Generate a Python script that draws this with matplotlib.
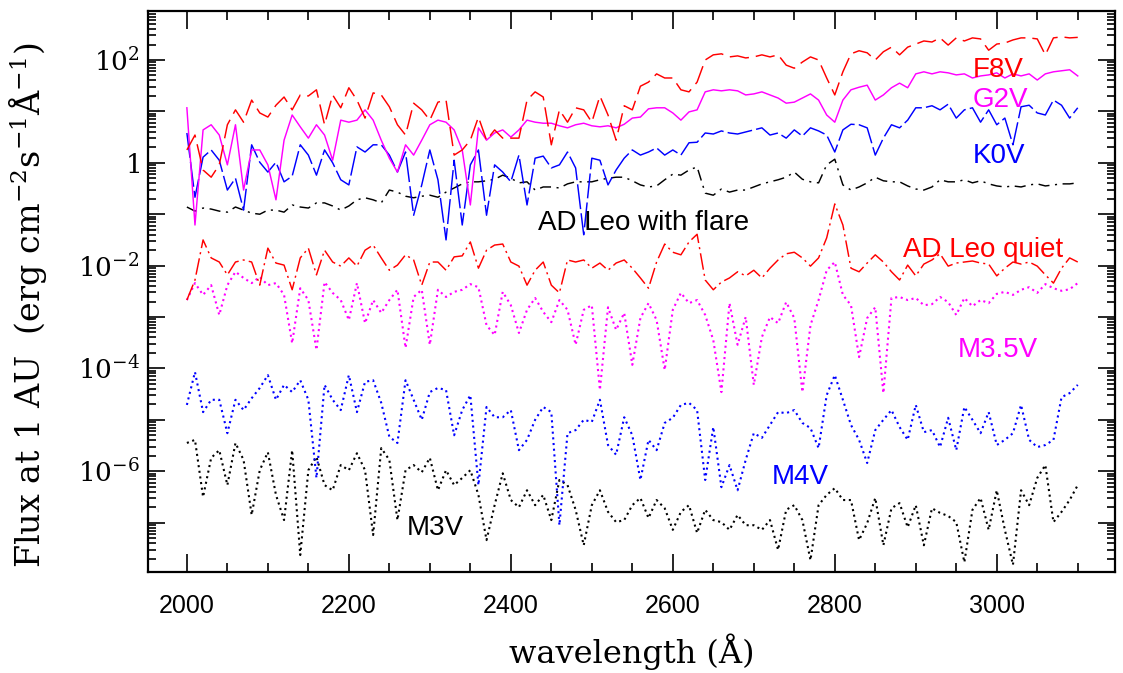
import numpy as np
import matplotlib
matplotlib.use('Agg')
import matplotlib.pyplot as plt
from matplotlib.ticker import LogLocator, FuncFormatter, MultipleLocator, NullFormatter

plt.rcParams['lines.scale_dashes'] = False
plt.rcParams['mathtext.fontset'] = 'dejavuserif'

# ---------------- data (log10 of flux at 1 AU) ----------------
wavelength = list(range(2000, 3101, 10))

f8v_log = [0.25, 0.54, -0.14, -0.28, -0.04, 0.74, 1.03, 0.79, 1.22, 0.97,
           0.89, 1.12, 1.28, 1.03, 1.32, 1.30, 1.42, 0.74, 1.32, 1.07,
           1.46, 1.22, 0.87, 1.36, 1.32, 1.09, 0.74, 0.54, 1.16, 1.03,
           0.83, 1.18, 1.22, 0.15, 0.25, 0.44, 0.89, 0.44, 0.64, 0.48,
           0.48, 0.48, 1.22, 1.38, 1.28, 0.35, 1.03, 0.79, 1.07, 1.03,
           0.79, 1.30, 0.93, 0.44, 1.11, 1.03, 1.49, 1.57, 1.73, 1.65,
           1.65, 1.42, 1.38, 1.57, 2.00, 2.10, 2.12, 2.06, 2.08, 2.04,
           2.06, 2.10, 2.06, 2.10, 1.90, 1.84, 1.96, 2.06, 2.00, 1.65,
           1.32, 1.77, 2.12, 2.18, 2.14, 2.00, 2.16, 2.25, 2.10, 2.25,
           2.31, 2.37, 2.35, 2.43, 2.29, 2.43, 2.37, 2.43, 2.41, 2.19,
           2.31, 2.33, 2.39, 2.43, 2.43, 2.41, 2.10, 2.43, 2.45, 2.43, 2.44]

g2v_log = [1.07, -1.21, 0.64, 0.74, 0.54, -0.04, 0.74, -0.53, 0.25, 0.25,
           -0.04, -0.72, 0.44, 0.93, 0.70, 0.48, 0.74, 0.54, 0.05, 0.83,
           0.79, 0.83, 1.03, 0.83, 0.44, 0.09, -0.18, 0.35, 0.15, 0.44,
           0.74, 0.83, 0.79, 0.64, 0.25, -0.82, 0.68, 0.44, 0.58, 0.64,
           0.50, 0.64, 0.83, 0.79, 0.77, 0.77, 0.72, 0.68, 0.74, 0.77,
           0.72, 0.70, 0.72, 0.68, 0.75, 0.87, 0.89, 1.05, 1.07, 1.07,
           0.97, 0.83, 0.99, 1.03, 1.38, 1.42, 1.40, 1.42, 1.40, 1.32,
           1.34, 1.38, 1.32, 1.26, 1.16, 1.18, 1.26, 1.34, 1.22, 0.93,
           0.79, 1.22, 1.42, 1.47, 1.51, 1.22, 1.32, 1.46, 1.55, 1.46,
           1.73, 1.77, 1.73, 1.77, 1.75, 1.71, 1.73, 1.65, 1.69, 1.71,
           1.75, 1.65, 1.73, 1.69, 1.73, 1.61, 1.73, 1.77, 1.79, 1.81, 1.69]

k0v_log = [0.58, -0.67, 0.11, 0.25, 0.05, -0.53, -0.30, -0.92, 0.35, 0.01,
           -0.18, 0.01, -0.37, -0.26, 0.35, 0.15, -0.24, 0.25, 0.00, -0.33,
           -0.43, 0.31, 0.21, 0.35, 0.35, 0.15, -0.18, 0.21, -1.02, -0.43,
           0.25, -0.33, -1.50, 0.05, -1.21, -0.04, 0.25, -1.02, -0.04, -0.18,
           -0.37, 0.15, -0.82, 0.09, 0.13, -0.10, -0.04, 0.21, -0.10, -1.40,
           0.09, 0.05, -0.43, -0.14, 0.09, 0.25, 0.15, 0.21, 0.29, 0.15,
           0.25, 0.15, 0.39, 0.40, 0.58, 0.56, 0.62, 0.58, 0.56, 0.60,
           0.64, 0.68, 0.54, 0.58, 0.48, 0.64, 0.52, 0.68, 0.62, 0.54,
           0.21, 0.64, 0.75, 0.74, 0.68, 0.15, 0.48, 0.74, 0.68, 0.83,
           1.07, 1.07, 1.11, 1.03, 1.14, 0.87, 1.03, 1.07, 0.79, 1.03,
           0.74, 0.87, 0.35, 1.09, 1.12, 0.97, 0.93, 1.22, 1.12, 0.87, 1.07]

flare_log = [-0.86, -0.94, -0.88, -0.90, -0.94, -0.96, -0.86, -0.92, -0.98, -1.00,
             -0.92, -0.92, -0.96, -0.82, -0.86, -0.88, -0.78, -0.78, -0.84, -0.92,
             -0.84, -0.72, -0.68, -0.72, -0.78, -0.53, -0.57, -0.65, -0.68, -0.65,
             -0.63, -0.67, -0.57, -0.49, -0.41, -0.37, -0.37, -0.35, -0.32, -0.24,
             -0.30, -0.39, -0.37, -0.53, -0.47, -0.47, -0.49, -0.41, -0.37, -0.37,
             -0.37, -0.33, -0.30, -0.28, -0.28, -0.35, -0.43, -0.47, -0.45, -0.33,
             -0.22, -0.24, -0.14, -0.08, -0.59, -0.63, -0.51, -0.57, -0.53, -0.53,
             -0.47, -0.41, -0.37, -0.33, -0.28, -0.18, -0.32, -0.37, -0.39, -0.04,
             0.07, -0.43, -0.53, -0.47, -0.39, -0.28, -0.35, -0.37, -0.37, -0.45,
             -0.51, -0.53, -0.47, -0.33, -0.37, -0.37, -0.33, -0.39, -0.35, -0.41,
             -0.45, -0.47, -0.45, -0.47, -0.43, -0.41, -0.45, -0.43, -0.41, -0.41, -0.39]

quiet_log = [-2.67, -2.28, -1.50, -1.85, -1.93, -2.18, -1.93, -1.89, -1.93, -2.38,
             -1.66, -1.95, -1.99, -2.47, -1.85, -1.66, -2.18, -1.70, -1.93, -2.01,
             -1.85, -2.01, -1.70, -1.60, -1.85, -2.09, -1.99, -1.79, -1.89, -2.38,
             -1.93, -1.93, -2.09, -1.83, -1.81, -1.54, -2.05, -1.70, -1.60, -1.58,
             -1.93, -2.01, -2.38, -2.09, -1.93, -2.38, -2.53, -1.89, -1.93, -1.89,
             -2.05, -1.95, -2.09, -1.95, -1.89, -2.05, -2.24, -2.44, -1.93, -1.58,
             -1.74, -1.79, -1.54, -1.39, -2.28, -2.47, -2.32, -2.24, -2.12, -2.20,
             -2.09, -2.24, -2.05, -1.89, -1.77, -1.74, -1.85, -2.01, -1.85, -1.46,
             -0.80, -1.21, -2.05, -2.12, -1.95, -1.79, -1.93, -2.12, -2.28, -1.99,
             -2.20, -1.97, -1.89, -1.77, -2.01, -1.95, -1.93, -1.91, -1.95, -1.97,
             -2.20, -2.05, -1.93, -1.97, -1.93, -2.01, -2.18, -2.34, -2.05, -1.85, -1.93]

m35v_log = [-2.67, -2.34, -2.57, -2.38, -2.96, -2.38, -2.12, -2.24, -2.34, -2.22,
            -2.38, -2.34, -2.57, -3.51, -2.44, -2.67, -3.64, -2.32, -2.53, -2.67,
            -3.06, -2.34, -3.12, -2.67, -2.92, -2.67, -2.47, -3.60, -2.61, -2.47,
            -3.54, -2.47, -2.61, -2.51, -2.47, -2.36, -2.42, -3.16, -3.35, -2.51,
            -2.77, -3.31, -2.86, -2.63, -2.90, -3.10, -2.67, -2.86, -3.54, -2.86,
            -2.77, -4.42, -2.81, -3.25, -2.92, -3.93, -3.02, -2.73, -3.06, -4.03,
            -2.86, -2.53, -2.73, -2.67, -2.96, -3.45, -4.46, -2.73, -3.54, -3.00,
            -4.32, -3.39, -3.00, -3.12, -2.71, -3.02, -4.46, -3.16, -2.67, -2.09,
            -1.93, -2.57, -2.77, -3.78, -3.02, -2.81, -4.48, -2.63, -2.61, -2.67,
            -2.63, -2.77, -2.75, -2.61, -2.71, -2.96, -2.63, -2.79, -2.67, -2.73,
            -2.55, -2.51, -2.57, -2.47, -2.42, -2.53, -2.36, -2.44, -2.49, -2.46, -2.34]

m4v_log = [-4.71, -4.07, -4.85, -4.61, -4.61, -5.26, -4.61, -4.81, -4.58, -4.38,
           -4.13, -4.61, -4.32, -4.46, -4.23, -4.61, -6.13, -4.32, -4.61, -4.81,
           -4.13, -4.85, -4.26, -4.23, -4.67, -5.33, -5.45, -4.23, -4.61, -5.00,
           -4.46, -4.38, -4.42, -5.30, -4.81, -4.52, -6.27, -4.75, -4.95, -4.95,
           -4.81, -5.59, -5.39, -5.00, -4.75, -4.85, -7.05, -5.26, -5.20, -5.00,
           -5.04, -4.61, -5.49, -5.68, -4.95, -5.30, -6.17, -5.39, -5.59, -5.06,
           -4.96, -4.71, -4.67, -4.81, -6.17, -5.14, -6.31, -5.88, -6.37, -5.78,
           -5.26, -5.35, -5.10, -4.85, -4.87, -4.81, -5.06, -5.16, -5.55, -4.52,
           -4.13, -4.61, -5.10, -5.39, -5.84, -5.20, -5.00, -4.81, -5.14, -5.39,
           -4.71, -5.24, -5.20, -5.53, -4.96, -5.59, -4.75, -5.00, -5.26, -4.85,
           -5.49, -5.39, -5.26, -4.71, -5.39, -5.53, -5.49, -5.39, -4.56, -4.48, -4.32]

m3v_log = [-5.45, -5.39, -6.50, -5.74, -5.59, -6.27, -5.45, -5.78, -6.85, -5.98,
           -5.63, -6.46, -6.95, -5.59, -7.63, -5.98, -5.72, -6.27, -6.37, -5.88,
           -5.98, -5.65, -5.98, -7.24, -5.55, -5.78, -6.95, -5.98, -5.88, -6.02,
           -5.74, -6.37, -5.98, -6.27, -6.13, -5.98, -6.46, -7.34, -6.66, -6.04,
           -6.56, -6.70, -6.37, -6.66, -6.46, -6.95, -6.17, -6.27, -6.75, -7.44,
           -6.66, -6.37, -6.79, -6.99, -6.95, -6.66, -6.52, -6.91, -6.56, -6.72,
           -7.14, -6.79, -6.66, -7.20, -6.75, -6.95, -6.99, -7.14, -6.85, -7.05,
           -7.05, -7.14, -6.95, -7.53, -6.75, -6.66, -6.95, -7.73, -6.66, -6.46,
           -6.33, -6.56, -6.56, -7.34, -7.01, -6.52, -7.44, -6.72, -6.62, -7.09,
           -6.66, -7.44, -6.72, -6.81, -6.87, -6.99, -7.77, -6.75, -6.52, -7.14,
           -6.37, -7.14, -7.82, -6.37, -6.66, -6.13, -5.88, -6.99, -6.79, -6.56, -6.27]

series_names = ['M3V', 'M4V', 'M3.5V', 'AD Leo quiet', 'AD Leo with flare', 'K0V', 'G2V', 'F8V']
series_logs = [m3v_log, m4v_log, m35v_log, quiet_log, flare_log, k0v_log, g2v_log, f8v_log]
series_colors = ['black', 'blue', 'magenta', 'red', 'black', 'blue', 'magenta', 'red']
series_dashes = [(1.5, 2.6), (1.5, 2.6), (1.5, 2.6), (12, 3, 1.5, 3), (8, 4, 1.5, 4),
                 (18, 3), None, (14, 5)]

x_tick_values = [2000, 2200, 2400, 2600, 2800, 3000]
x_tick_labels = ['2000', '2200', '2400', '2600', '2800', '3000']

# label positions: (wavelength, log10 flux) of left/baseline anchor
label_pos = {'F8V': (2970, 1.67), 'G2V': (2970, 1.09), 'K0V': (2970, 0.0),
             'AD Leo with flare': (2433, -1.31), 'AD Leo quiet': (2884, -1.83),
             'M3.5V': (2952, -3.78), 'M4V': (2722, -6.25), 'M3V': (2272, -7.24)}
label_colors = {'F8V': 'red', 'G2V': 'magenta', 'K0V': 'blue', 'AD Leo with flare': 'black',
                'AD Leo quiet': 'red', 'M3.5V': 'magenta', 'M4V': 'blue', 'M3V': 'black'}

# ---------------- figure ----------------
W, H = 1123, 673
fig = plt.figure(figsize=(W / 100, H / 100), dpi=100)
ax = fig.add_axes([148 / W, 1 - 572 / H, (1115 - 148) / W, (572 - 11) / H])

wl = np.array(wavelength)
for logs, col, dsh in zip(series_logs, series_colors, series_dashes):
    flux = 10.0 ** np.array(logs)
    if dsh is None:
        ax.plot(wl, flux, color=col, lw=1.05, ls='-')
    else:
        lw = 1.5 if len(dsh) == 2 and dsh[0] < 3 else 1.05
        ax.plot(wl, flux, color=col, lw=lw, ls=(0, dsh))

ax.set_yscale('log')
ax.set_xlim(1952, 3146)
ax.set_ylim(10 ** -7.96, 10 ** 2.953)

for name, (xw, ly) in label_pos.items():
    ax.text(xw, 10 ** ly, name, color=label_colors[name], fontsize=20,
            family=['Liberation Sans', 'DejaVu Sans'], ha='left', va='baseline')

# axes styling
for sp in ax.spines.values():
    sp.set_linewidth(1.6)

ax.set_xticks(x_tick_values)
ax.set_xticklabels(x_tick_labels, fontfamily=['Liberation Sans Narrow', 'Liberation Sans'], fontsize=18)
ax.xaxis.set_minor_locator(MultipleLocator(50))

ax.yaxis.set_major_locator(LogLocator(base=10, numticks=20))
ax.yaxis.set_minor_locator(LogLocator(base=10, subs=np.arange(2, 10), numticks=20))
ax.yaxis.set_minor_formatter(NullFormatter())


def yfmt(v, pos):
    e = int(round(np.log10(v)))
    if e % 2:
        return ''
    if e == 0:
        return r'$1\enspace$'
    return r'$10^{%d}$' % e


ax.yaxis.set_major_formatter(FuncFormatter(yfmt))

ax.tick_params(axis='both', which='both', direction='in', top=True, right=True)
ax.tick_params(axis='x', which='major', length=13, width=1.2, pad=16)
ax.tick_params(axis='x', which='minor', length=6.5, width=1.2)
ax.tick_params(axis='y', which='major', length=12, width=1.2, pad=6, labelsize=19)
ax.tick_params(axis='y', which='minor', length=6, width=1.2)

ax.set_xlabel('wavelength (Å)', family='DejaVu Serif', fontsize=23, va='center')
ax.xaxis.set_label_coords(0.5005, -0.1426)
ax.set_ylabel(r'Flux at 1 AU  (erg cm$^{-2}$s$^{-1}$Å$^{-1}$)', family='DejaVu Serif',
              fontsize=24, va='center', ha='center')
ax.yaxis.set_label_coords(-0.124, 0.476)

fig.savefig('out.png', dpi=100)
